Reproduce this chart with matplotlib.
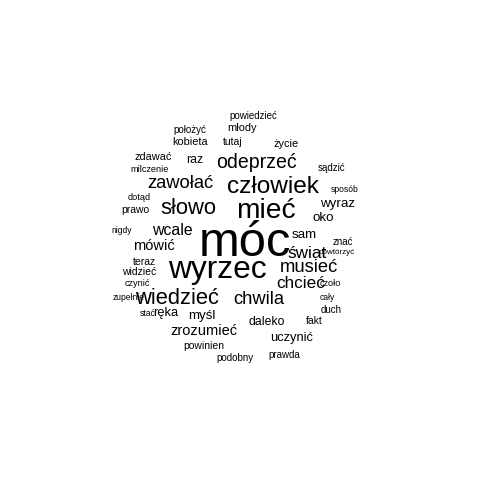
import matplotlib.pyplot as plt

plt.rcParams["font.family"] = ["Liberation Sans", "DejaVu Sans"]

# word frequencies (relative weight)
words = ["móc", "wyrzec", "mieć", "człowiek", "wiedzieć", "słowo", "odeprzeć",
         "zawołać", "chwila", "musieć", "świat", "chcieć", "wcale", "zrozumieć",
         "mówić", "sam", "oko", "wyraz", "myśl", "ręka", "uczynić", "raz",
         "daleko", "życie", "młody", "kobieta", "zdawać", "fakt", "powinien",
         "tutaj", "teraz", "widzieć", "prawo", "podobny", "prawda", "położyć",
         "powiedzieć", "sądzić", "znać", "duch", "czoło", "milczenie", "dotąd",
         "czynić", "sposób", "nigdy", "zupełnie", "stać", "cały", "powtórzyć"]
freq = [40, 26, 23, 20, 18, 18, 16,
        15, 15, 15, 14, 14, 13, 12,
        12, 11, 11, 11, 11, 10.5, 10.5, 10,
        10, 9, 9, 9, 9, 8.5, 8.5,
        8.5, 8.5, 8.5, 8.5, 8, 8, 8,
        8, 8, 8, 8, 7.5, 7.5, 7.5,
        7.5, 7, 7, 7, 7, 7, 6.5]

# layout: word centres in pixels (x, y from top)
layout = [(245, 243), (217, 270), (266, 211), (273, 187), (177, 299), (188, 209), (256, 162),
          (180, 184), (259, 299), (309, 268), (307, 253), (301, 284), (172, 231), (204, 331),
          (154, 246), (304, 235), (323, 218), (338, 204), (202, 316), (166, 313), (292, 338), (195, 160),
          (267, 322), (286, 144), (242, 128), (190, 142), (153, 157), (314, 321), (204, 346),
          (233, 142), (144, 262), (139, 272), (135, 210), (235, 358), (284, 355), (190, 130),
          (253, 116), (332, 168), (343, 242), (331, 310), (330, 284), (150, 169), (139, 197),
          (137, 283), (345, 190), (122, 230), (129, 297), (148, 314), (327, 298), (337, 252)]

scale = 0.88
fig = plt.figure(figsize=(4.8, 4.8), dpi=100)
fig.patch.set_facecolor("white")
for w, f, (x, y) in zip(words, freq, layout):
    fig.text(x / 480, 1 - y / 480, w, fontsize=f * scale, ha="center", va="center", color="black")
fig.savefig("out.png", dpi=100)
